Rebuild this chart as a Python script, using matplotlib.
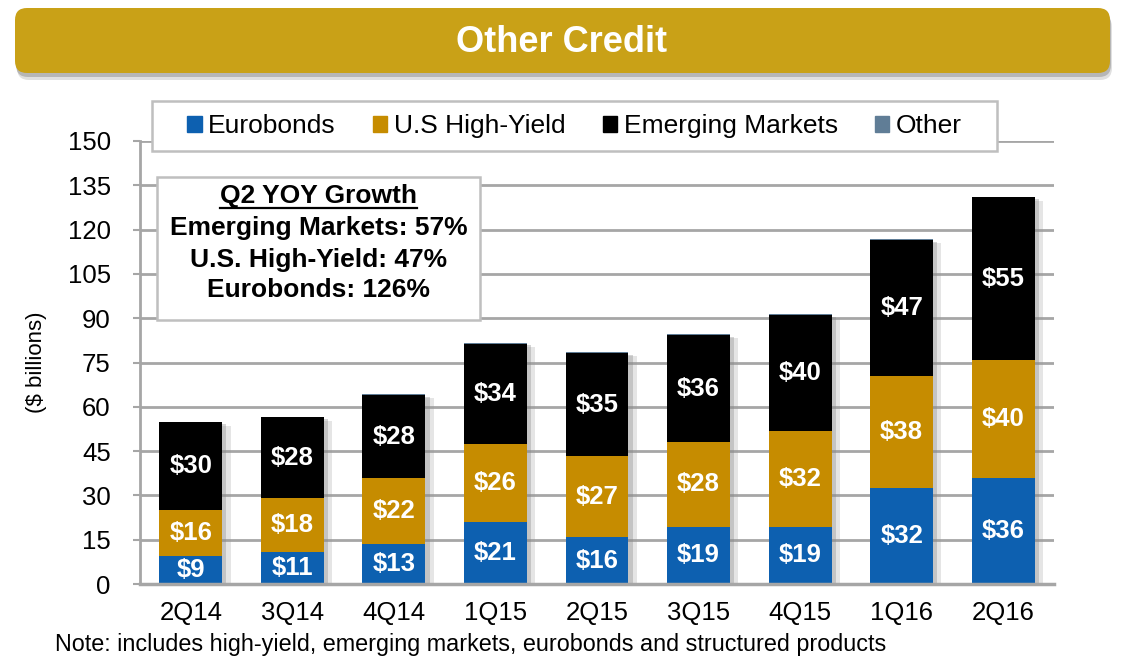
#!/usr/bin/env python
# -*- coding: utf-8 -*-

import matplotlib
matplotlib.use('Agg')
import matplotlib.pyplot as plt
import matplotlib.patheffects as pe
from matplotlib.patches import FancyBboxPatch, Rectangle, Patch
import numpy as np

plt.rcParams['font.family'] = ['Liberation Sans', 'DejaVu Sans']

quarters = ['2Q14', '3Q14', '4Q14', '1Q15', '2Q15', '3Q15', '4Q15', '1Q16', '2Q16']
eurobonds = [9.4, 10.8, 13.5, 21.1, 15.8, 19.4, 19.4, 32.6, 35.8]
high_yield = [15.6, 18.2, 22.3, 26.3, 27.4, 28.6, 32.3, 37.8, 40.1]
emerging = [29.7, 27.4, 28.2, 34.0, 35.1, 36.3, 39.4, 46.2, 55.0]
other = [0.3, 0.3, 0.3, 0.3, 0.3, 0.4, 0.3, 0.3, 0.3]

euro_lbl = ['$9', '$11', '$13', '$21', '$16', '$19', '$19', '$32', '$36']
hy_lbl = ['$16', '$18', '$22', '$26', '$27', '$28', '$32', '$38', '$40']
em_lbl = ['$30', '$28', '$28', '$34', '$35', '$36', '$40', '$47', '$55']

series = ['Eurobonds', 'U.S High-Yield', 'Emerging Markets', 'Other']
colors = ['#0D60B0', '#C68C00', '#000000', '#607D96']

yoy_title = 'Q2 YOY Growth'
yoy_lines = ['Emerging Markets: 57%', 'U.S. High-Yield: 47%', 'Eurobonds: 126%']
note = 'Note: includes high-yield, emerging markets, eurobonds and structured products'

W, H = 1125, 660
fig = plt.figure(figsize=(W / 100, H / 100), dpi=100)
fig.patch.set_facecolor('white')

ax = fig.add_axes([140 / W, 76 / H, 914 / W, 443 / H])
x = np.arange(len(quarters))
bw = 0.62
grid_c = '#A6A6A6'

e = np.array(eurobonds)
h = np.array(high_yield)
m = np.array(emerging)
o = np.array(other)
tot = e + h + m + o

# soft shadow behind each whole bar
ax.bar(x, tot, bw, color='none', zorder=2,
       path_effects=[pe.SimplePatchShadow(offset=(6, -3), shadow_rgbFace='#999999', alpha=0.25),
                     pe.SimplePatchShadow(offset=(3, -2), shadow_rgbFace='#888888', alpha=0.35)])

ax.bar(x, e, bw, color=colors[0], zorder=3)
ax.bar(x, h, bw, bottom=e, color=colors[1], zorder=3)
ax.bar(x, m, bw, bottom=e + h, color=colors[2], zorder=3)
ax.bar(x, o, bw, bottom=e + h + m, color=colors[3], zorder=3)

for i in range(len(quarters)):
    kw = dict(ha='center', va='center', color='white', fontsize=18.5, fontweight='bold', zorder=4)
    ax.text(x[i], e[i] / 2, euro_lbl[i], **kw)
    ax.text(x[i], e[i] + h[i] / 2, hy_lbl[i], **kw)
    ax.text(x[i], e[i] + h[i] + m[i] / 2, em_lbl[i], **kw)

ax.set_xlim(-0.5, len(quarters) - 0.5)
ax.set_ylim(0, 150)
ax.set_yticks(np.arange(0, 151, 15))
ax.set_xticks(x)
ax.set_xticklabels(quarters)
ax.yaxis.grid(True, color=grid_c, lw=2)
ax.set_axisbelow(True)
for s in ['top', 'right']:
    ax.spines[s].set_visible(False)
ax.spines['left'].set_color(grid_c)
ax.spines['left'].set_linewidth(2)
ax.spines['bottom'].set_color(grid_c)
ax.spines['bottom'].set_linewidth(2.5)
ax.spines['bottom'].set_zorder(5)
ax.tick_params(axis='y', direction='out', length=5, width=1.5, color=grid_c,
               labelsize=18.5, pad=16)
ax.tick_params(axis='x', length=0, labelsize=18.5, pad=12)
ax.set_ylabel('($ billions)', fontsize=16)
ax.yaxis.set_label_coords((47 - 140) / 914, 0.5)

# overlay in pixel coordinates for banner, boxes and note
ov = fig.add_axes([0, 0, 1, 1], zorder=5)
ov.set_xlim(0, W)
ov.set_ylim(H, 0)
ov.axis('off')
ov.patch.set_visible(False)

for dx, dy, a in [(2, 7, 0.18), (1, 4, 0.3)]:
    ov.add_patch(FancyBboxPatch((15 + dx, 8 + dy), 1095, 65,
                                boxstyle='round,pad=0,rounding_size=12',
                                fc='#555555', ec='none', alpha=a))
ov.add_patch(FancyBboxPatch((15, 8), 1095, 65, boxstyle='round,pad=0,rounding_size=12',
                            fc='#C9A117', ec='none'))
ov.text(562, 42, 'Other Credit', ha='center', va='center', color='white',
        fontsize=26, fontweight='bold')

# legend box
ov.add_patch(Rectangle((152, 101), 845, 50, fc='white', ec='#BFBFBF', lw=1.8))
handles = [Patch(color=c) for c in colors]
ov.legend(handles, series, loc='center', bbox_to_anchor=(574.5, 126),
          bbox_transform=ov.transData, ncol=4, frameon=False, fontsize=19,
          handlelength=0.55, handleheight=0.55, handletextpad=0.25,
          columnspacing=1.4, borderpad=0)

# growth annotation box
ov.add_patch(Rectangle((157, 177), 323, 143, fc='white', ec='#BFBFBF', lw=1.8))
t = ov.text(318.5, 196, yoy_title, ha='center', va='center', fontsize=19, fontweight='bold')
for yy, s in zip([228, 260, 290], yoy_lines):
    ov.text(318.5, yy, s, ha='center', va='center', fontsize=19, fontweight='bold')

fig.canvas.draw()
bb = t.get_window_extent().transformed(ov.transData.inverted())
ov.plot([bb.x0, bb.x1], [207.5, 207.5], color='black', lw=1.6)

ov.text(55, 645, note, ha='left', va='center', fontsize=16.8)

plt.savefig('out.png', dpi=100)
